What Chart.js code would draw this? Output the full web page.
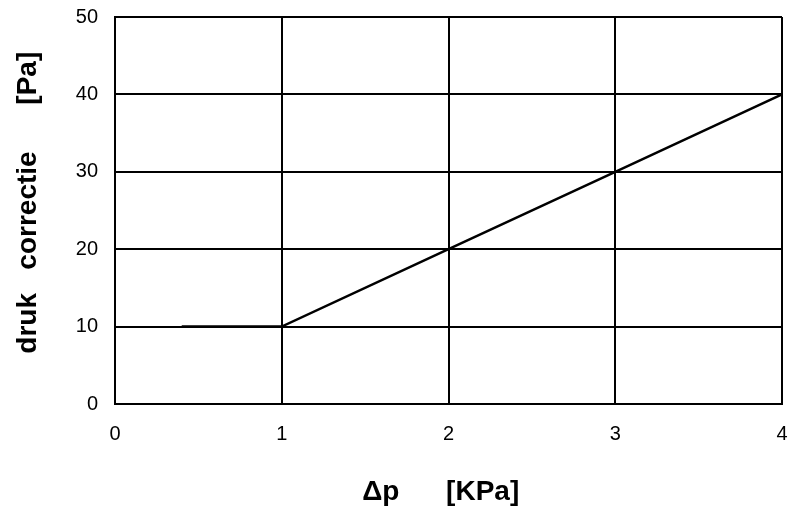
<!DOCTYPE html>
<html>
<head>
<meta charset="utf-8">
<title>druk correctie</title>
<script src="https://cdn.jsdelivr.net/npm/chart.js@4/dist/chart.umd.min.js"></script>
<style>
  html, body { margin: 0; padding: 0; background: #fff; }
  #wrap { width: 800px; height: 514px; }
</style>
</head>
<body>
<div id="wrap"><canvas id="c" width="800" height="514"></canvas></div>
<script>
// Pressure difference Δp (kPa) and the matching pressure correction (Pa)
const deltaP = [0.4, 1, 2, 3, 4];
const correctie = [10, 10, 20, 30, 40];

// Axis ranges and tick steps
const xTicks = [0, 1, 2, 3, 4];
const yTicks = [0, 10, 20, 30, 40, 50];

const NB = '\u00A0';
const xTitle = 'Δp' + NB.repeat(6) + '[KPa]' + NB.repeat(2);
const yTitle = NB.repeat(2) + 'druk' + NB.repeat(3) + 'correctie' + NB.repeat(6) + '[Pa]';

const points = deltaP.map((x, i) => ({ x: x, y: correctie[i] }));

const tickFont = { family: '"Liberation Sans", Arial, sans-serif', size: 20 };
const titleFont = { family: '"Liberation Sans", Arial, sans-serif', size: 28, weight: 'bold' };

new Chart(document.getElementById('c'), {
  type: 'scatter',
  data: {
    datasets: [{
      data: points,
      showLine: true,
      borderColor: '#000',
      borderWidth: 2.5,
      pointRadius: 0,
      fill: false,
      tension: 0
    }]
  },
  options: {
    responsive: false,
    animation: false,
    events: [],
    layout: { padding: { left: 0, right: 18, top: 17, bottom: 0 } },
    plugins: { legend: { display: false }, tooltip: { enabled: false } },
    scales: {
      x: {
        type: 'linear',
        min: xTicks[0],
        max: xTicks[xTicks.length - 1],
        afterBuildTicks: (s) => { s.ticks = xTicks.map(v => ({ value: v })); },
        afterFit: (s) => { s.height = 110; s.paddingLeft = 0; s.paddingRight = 0; },
        grid: { color: '#000', lineWidth: 2, drawTicks: false },
        border: { color: '#000', width: 2 },
        ticks: { color: '#000', font: tickFont, padding: 18, maxRotation: 0 },
        title: { display: true, text: xTitle, color: '#000', font: titleFont, padding: { top: 0, bottom: 5 } }
      },
      y: {
        type: 'linear',
        min: yTicks[0],
        max: yTicks[yTicks.length - 1],
        afterBuildTicks: (s) => { s.ticks = yTicks.map(v => ({ value: v })); },
        afterFit: (s) => { s.width = 115; s.paddingTop = 0; s.paddingBottom = 0; },
        grid: { color: '#000', lineWidth: 2, drawTicks: false },
        border: { color: '#000', width: 2 },
        ticks: { color: '#000', font: tickFont, padding: 17 },
        title: { display: true, text: yTitle, color: '#000', font: titleFont, padding: { top: 11, bottom: 0 } }
      }
    }
  }
});
</script>
</body>
</html>
